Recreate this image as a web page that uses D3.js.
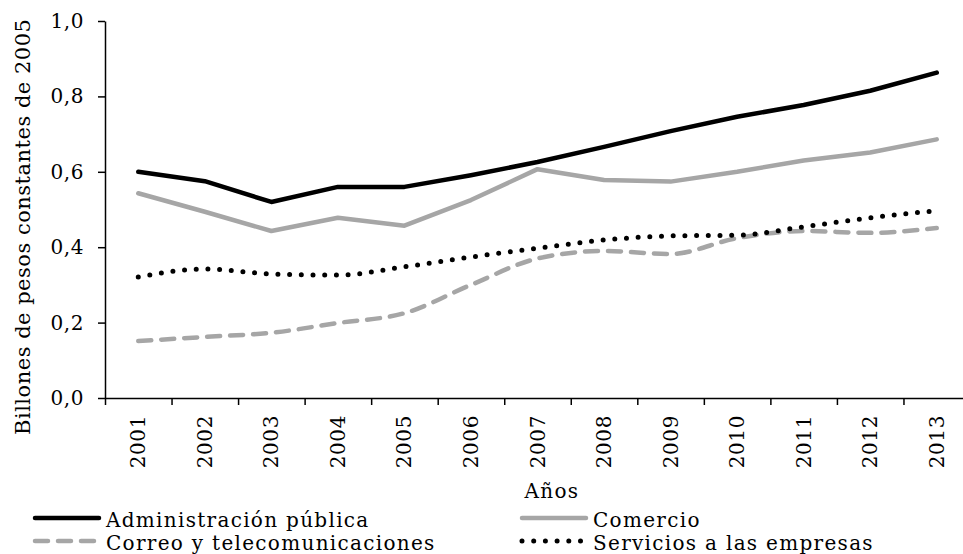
<!DOCTYPE html>
<html>
<head>
<meta charset="utf-8">
<script src="https://cdn.jsdelivr.net/npm/d3@7"></script>
<style>
	body { margin: 0; background: #fff; }
	svg { display: block; font-family: "DejaVu Serif", serif; }
	.axis path, .axis line { stroke: #000; stroke-width: 1.5; }
	.axis text { font-size: 20px; fill: #000; font-family: "DejaVu Serif", serif; letter-spacing: 0.6px; }
	.label { font-size: 20px; fill: #000; letter-spacing: 1.3px; }
	.ytitle { font-size: 21px; fill: #000; letter-spacing: 0.5px; }
</style>
</head>
<body>
<script>
// chart values
const YEARS = ["2001", "2002", "2003", "2004", "2005", "2006", "2007",
	"2008", "2009", "2010", "2011", "2012", "2013"];
const ADMIN_PUBLICA = [0.600, 0.575, 0.520, 0.560, 0.560, 0.591, 0.626,
	0.666, 0.708, 0.746, 0.777, 0.815, 0.863];
const COMERCIO = [0.543, 0.494, 0.443, 0.478, 0.457, 0.525, 0.607,
	0.578, 0.574, 0.600, 0.630, 0.651, 0.686];
const CORREO_TELECOM = [0.151, 0.162, 0.173, 0.199, 0.225, 0.300, 0.370,
	0.390, 0.382, 0.424, 0.443, 0.438, 0.451];
const SERVICIOS_EMPRESAS = [0.321, 0.342, 0.329, 0.326, 0.348, 0.374, 0.397,
	0.419, 0.430, 0.432, 0.454, 0.478, 0.497];
const Y_TICKS = [0, 0.2, 0.4, 0.6, 0.8, 1.0];

let series = [
	{name: "Administración pública", values: ADMIN_PUBLICA, color: "#000", dash: null, width: 4.5, smooth: false},
	{name: "Comercio", values: COMERCIO, color: "#a6a6a6", dash: null, width: 4.5, smooth: false},
	{name: "Correo y telecomunicaciones", values: CORREO_TELECOM, color: "#a6a6a6", dash: "13,10", width: 4.5, smooth: true},
	{name: "Servicios a las empresas", values: SERVICIOS_EMPRESAS, color: "#000", dash: "0,11.7", width: 5, smooth: true}
];

let width = 963, height = 554;
let plot = {left: 105, right: 970, top: 21, bottom: 398};

let svg = d3.select("body").append("svg")
	.attr("width", width)
	.attr("height", height);

let xScale = d3.scaleBand().domain(YEARS).range([plot.left, plot.right]);
let xEdge = d3.scaleLinear().domain([0, YEARS.length]).range([plot.left, plot.right]);
let yScale = d3.scaleLinear().domain([0, 1]).range([plot.bottom, plot.top]);

let comma = d3.formatLocale({decimal: ",", thousands: ".", grouping: [3], currency: ["$", ""]}).format(".1f");

// y axis
svg.append("g")
	.attr("class", "axis")
	.attr("transform", "translate(" + plot.left + ",0)")
	.call(d3.axisLeft(yScale)
		.tickValues(Y_TICKS)
		.tickSize(7)
		.tickSizeOuter(0)
		.tickPadding(14)
		.tickFormat(comma));

// x axis: tick marks sit between the categories
svg.append("g")
	.attr("class", "axis")
	.attr("transform", "translate(0," + plot.bottom + ")")
	.call(d3.axisBottom(xEdge)
		.tickValues(d3.range(YEARS.length + 1))
		.tickSize(7)
		.tickSizeOuter(0)
		.tickFormat(""));

// x labels, rotated
let xLabels = svg.append("g")
	.attr("class", "axis")
	.attr("transform", "translate(0," + plot.bottom + ")")
	.call(d3.axisBottom(xScale).tickSize(0));
xLabels.select(".domain").remove();
xLabels.selectAll("text")
	.attr("transform", "rotate(-90)")
	.attr("x", -17)
	.attr("y", 0)
	.attr("dy", ".35em")
	.style("text-anchor", "end");

// draw the lines
series.forEach(function(s) {
	let line = d3.line()
		.curve(s.smooth ? d3.curveMonotoneX : d3.curveLinear)
		.x(function(d, i) { return xScale(YEARS[i]) + xScale.bandwidth() / 2; })
		.y(function(d) { return yScale(d); });

	svg.append("path")
		.datum(s.values)
		.attr("fill", "none")
		.attr("stroke", s.color)
		.attr("stroke-width", s.width)
		.attr("stroke-linecap", "round")
		.attr("stroke-linejoin", "round")
		.attr("stroke-dasharray", s.dash)
		.attr("d", line);
});

// axis titles
svg.append("text")
	.attr("class", "ytitle")
	.attr("transform", "translate(30,435) rotate(-90)")
	.text("Billones de pesos constantes de 2005");

svg.append("text")
	.attr("class", "label")
	.attr("x", 552)
	.attr("y", 498)
	.attr("text-anchor", "middle")
	.text("Años");

// legend, two columns
let legendPos = [[33, 518], [520, 518], [33, 541], [520, 541]];
series.forEach(function(s, i) {
	let p = legendPos[i];
	svg.append("line")
		.attr("x1", p[0] + 2)
		.attr("x2", p[0] + 66)
		.attr("y1", p[1])
		.attr("y2", p[1])
		.attr("stroke", s.color)
		.attr("stroke-width", s.width)
		.attr("stroke-linecap", "round")
		.attr("stroke-dasharray", s.dash);
	svg.append("text")
		.attr("class", "label")
		.attr("x", p[0] + 73)
		.attr("y", p[1] + 9)
		.text(s.name);
});
</script>
</body>
</html>
